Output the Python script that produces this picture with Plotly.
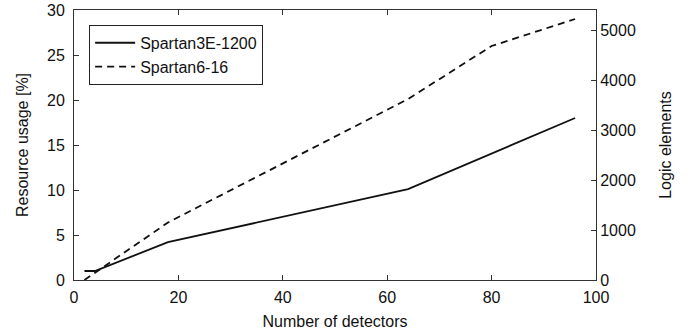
import plotly.graph_objects as go

# Data
det_3e = [2, 4, 18, 64, 96]
usage_3e = [1.0, 1.0, 4.2, 10.1, 18.0]          # Resource usage [%] (left axis)

det_6 = [2, 18, 64, 80, 96]
le_6 = [0, 1150, 3620, 4680, 5220]               # Logic elements (right axis)

x_ticks = [0, 20, 40, 60, 80, 100]
y_ticks = [0, 5, 10, 15, 20, 25, 30]
y2_ticks = [0, 1000, 2000, 3000, 4000, 5000]

FONT = "Liberation Sans, Arial, sans-serif"
INK = "#111111"

fig = go.Figure()
fig.add_trace(go.Scatter(x=det_3e, y=usage_3e, mode="lines", name="Spartan3E-1200",
                         line=dict(color=INK, width=1.8)))
fig.add_trace(go.Scatter(x=det_6, y=le_6, mode="lines", name="Spartan6-16", yaxis="y2",
                         line=dict(color=INK, width=1.8, dash="7px,5px")))

axis_common = dict(showgrid=False, zeroline=False, showline=True, linecolor="#333",
                   linewidth=1, ticks="inside", ticklen=5, tickcolor="#333",
                   automargin=False,
                   tickfont=dict(family=FONT, size=16, color=INK))

fig.update_layout(
    width=692, height=333,
    margin=dict(l=74, r=96, t=10, b=53),
    paper_bgcolor="white", plot_bgcolor="white",
    font=dict(family=FONT, size=16, color=INK),
    showlegend=True,
    legend=dict(x=0.029, y=0.945, xanchor="left", yanchor="top",
                bordercolor="#222", borderwidth=1, bgcolor="white",
                font=dict(family=FONT, size=16, color=INK),
                tracegroupgap=0, itemwidth=40),
    xaxis=dict(range=[0, 100], tickvals=x_ticks, mirror="ticks", ticklabelstandoff=3,
               title=dict(text="Number of detectors", standoff=10,
                          font=dict(family=FONT, size=16, color=INK)),
               **axis_common),
    yaxis=dict(range=[0, 30], tickvals=y_ticks, mirror=True, ticklabelstandoff=5,
               title=dict(text="Resource usage [%]", standoff=14,
                          font=dict(family=FONT, size=16, color=INK)),
               **axis_common),
    yaxis2=dict(range=[0, 5400], tickvals=y2_ticks, overlaying="y", side="right",
                title=dict(text="Logic elements", standoff=24,
                           font=dict(family=FONT, size=16, color=INK)),
                **axis_common),
)

fig.write_html("out.html", config={"displayModeBar": False},
               post_script="document.body.style.margin='0';document.body.style.padding='0';")
